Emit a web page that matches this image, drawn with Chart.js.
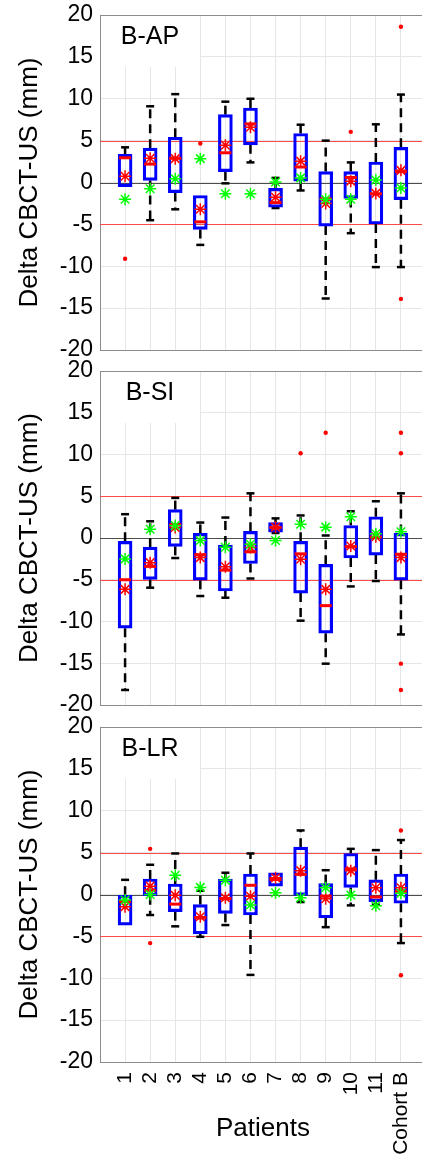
<!DOCTYPE html>
<html>
<head>
<meta charset="utf-8">
<script src="https://cdn.jsdelivr.net/npm/chart.js@4.4.0/dist/chart.umd.min.js"></script>
<style>
  html, body { margin: 0; padding: 0; background: #fff; }
  #wrap { position: relative; width: 422px; height: 1157px; overflow: hidden; }
  canvas { position: absolute; left: 0; }
</style>
</head>
<body>
<div id="wrap">
  <canvas id="apChart" width="440" height="364" style="top:0px"></canvas>
  <canvas id="siChart" width="440" height="363" style="top:356px"></canvas>
  <canvas id="lrChart" width="440" height="445" style="top:712px"></canvas>
</div>
<script>
const categories = ['1', '2', '3', '4', '5', '6', '7', '8', '9', '10', '11', 'Cohort B'];
const yTicks = [-20, -15, -10, -5, 0, 5, 10, 15, 20];
const refLines = [-5, 0, 5];

// B-AP
const apLow = [-0.5, -4.5, -3.2, -7.45, -0.1, 2.4, -3.05, -0.95, -13.85, -6.05, -10.1, -10.1];
const apQ1 = [-0.5, 0.25, -1.2, -5.6, 1.3, 4.5, -2.95, 0.15, -5.2, -1.9, -4.95, -2.05];
const apMed = [2.95, 2.2, 2.9, -4.7, 3.55, 7.0, -2.4, 1.85, -1.95, 0.6, -1.35, 1.3];
const apQ3 = [3.35, 4.1, 5.4, -1.55, 8.1, 8.9, -0.7, 5.85, 1.3, 1.3, 2.45, 4.2];
const apHigh = [4.2, 9.1, 10.55, -1.55, 9.65, 10.0, 0.55, 6.9, 5.0, 2.4, 6.95, 10.5];
const apMean = [0.75, 2.9, 2.85, -3.2, 4.45, 6.6, -1.75, 2.55, -2.5, 0.15, -1.3, 1.45];
const apGreen = [-2.0, -0.75, 0.45, 2.85, -1.35, -1.35, 0.05, 0.55, -2.0, -2.0, 0.3, -0.65];
const apOutCat = [1, 4, 10, 12, 12];
const apOutVal = [-9.1, 4.65, 6.05, 18.6, -13.9];

// B-SI
const siLow = [-18.2, -5.95, -2.4, -6.95, -7.15, -4.85, 0.6, -9.9, -15.05, -5.8, -5.15, -11.55];
const siQ1 = [-10.8, -4.95, -1.0, -5.05, -6.35, -3.05, 0.7, -6.6, -11.4, -2.4, -2.05, -5.05];
const siMed = [-5.0, -3.4, 1.6, -2.0, -3.85, -1.65, 1.25, -1.9, -8.1, -1.05, 0.1, -1.95];
const siQ3 = [-0.4, -1.1, 3.4, 0.55, -0.85, 0.8, 1.85, -0.4, -3.15, 1.5, 2.55, 0.55];
const siHigh = [2.85, 2.0, 4.8, 1.85, 2.45, 5.35, 2.35, 2.7, 0.3, 3.2, 4.4, 5.35];
const siMean = [-6.15, -2.95, 1.25, -2.35, -3.45, -1.15, 1.3, -2.55, -6.15, -0.95, 0.15, -2.35];
const siGreen = [-2.5, 1.05, 1.5, -0.3, -1.1, -0.75, -0.3, 1.65, 1.3, 2.55, 0.5, 0.75];
const siOutCat = [8, 9, 12, 12, 12, 12];
const siOutVal = [10.15, 12.6, 12.6, 10.15, -15.05, -18.2];

// B-LR
const lrLow = [-3.65, -2.45, -3.8, -5.05, -3.65, -9.6, 1.0, -0.9, -3.9, -1.3, -1.2, -5.8];
const lrQ1 = [-3.65, -0.15, -2.05, -4.7, -2.25, -2.45, 1.0, -0.1, -2.8, 0.85, -0.85, -1.05];
const lrMed = [-0.85, 0.5, -1.15, -2.8, -0.5, 1.1, 1.8, 2.4, -0.2, 3.05, -0.3, 0.4];
const lrQ3 = [-0.1, 1.85, 1.25, -1.2, 1.85, 2.45, 2.6, 5.65, 1.3, 4.9, 1.75, 2.45];
const lrHigh = [1.75, 3.55, 4.9, 0.45, 2.6, 4.9, 2.6, 7.65, 2.9, 5.45, 5.3, 6.5];
const lrMean = [-1.45, 1.0, -0.1, -2.65, -0.4, -0.2, 2.0, 2.85, -0.5, 2.85, 0.8, 0.8];
const lrGreen = [-0.65, 0.0, 2.3, 0.85, 1.7, -1.25, 0.2, -0.4, 0.8, -0.05, -1.35, 0.15];
const lrOutCat = [2, 2, 12, 12];
const lrOutVal = [5.45, -5.8, 7.65, -9.65];

const FONT = "'Liberation Sans', Arial, sans-serif";
const BOX_W = 14;

const panels = {
  apChart: { label: 'B-AP', low: apLow, q1: apQ1, med: apMed, q3: apQ3, high: apHigh },
  siChart: { label: 'B-SI', low: siLow, q1: siQ1, med: siMed, q3: siQ3, high: siHigh },
  lrChart: { label: 'B-LR', low: lrLow, q1: lrQ1, med: lrMed, q3: lrQ3, high: lrHigh }
};

// whiskers, reference lines, medians and the panel label
const boxParts = {
  id: 'boxParts',
  beforeDatasetsDraw(chart) {
    const p = panels[chart.canvas.id];
    const { ctx, chartArea: area, scales: { x, y } } = chart;
    ctx.save();
    refLines.forEach(v => {
      const py = Math.round(y.getPixelForValue(v)) + 0.5;
      ctx.strokeStyle = v === 0 ? '#4d4d4d' : '#ff4a4a';
      ctx.lineWidth = 1;
      ctx.beginPath();
      ctx.moveTo(area.left, py);
      ctx.lineTo(area.right, py);
      ctx.stroke();
    });
    p.low.forEach((lo, i) => {
      const px = x.getPixelForValue(i + 1);
      [[p.q3[i], p.high[i]], [p.q1[i], lo]].forEach(([from, to]) => {
        if (from === to) return;
        const y0 = y.getPixelForValue(from);
        const y1 = y.getPixelForValue(to);
        ctx.strokeStyle = '#000';
        ctx.lineWidth = 2.5;
        ctx.setLineDash([9, 6]);
        ctx.beginPath();
        ctx.moveTo(px, y0);
        ctx.lineTo(px, y1);
        ctx.stroke();
        ctx.setLineDash([]);
        ctx.beginPath();
        ctx.moveTo(px - 4, y1);
        ctx.lineTo(px + 4, y1);
        ctx.stroke();
      });
    });
    ctx.fillStyle = '#fff';
    ctx.fillRect(area.left + 1, area.top + 1, 99, 51);
    ctx.strokeStyle = '#8c8c8c';
    ctx.lineWidth = 1;
    ctx.beginPath();
    ctx.moveTo(area.left, Math.round(area.top) + 0.5);
    ctx.lineTo(area.right, Math.round(area.top) + 0.5);
    ctx.stroke();
    ctx.fillStyle = '#000';
    ctx.font = '25px ' + FONT;
    ctx.textAlign = 'center';
    ctx.textBaseline = 'middle';
    ctx.fillText(p.label, area.left + 50, area.top + 22);
    ctx.restore();
  },
  afterDatasetDraw(chart, args) {
    if (args.meta.type !== 'bar') return;
    const p = panels[chart.canvas.id];
    const { ctx, scales: { x, y } } = chart;
    ctx.save();
    ctx.strokeStyle = '#ff0000';
    ctx.lineWidth = 3;
    p.med.forEach((m, i) => {
      const px = x.getPixelForValue(i + 1);
      const py = y.getPixelForValue(m);
      ctx.beginPath();
      ctx.moveTo(px - BOX_W / 2 + 1, py);
      ctx.lineTo(px + BOX_W / 2 - 1, py);
      ctx.stroke();
    });
    ctx.restore();
  }
};

const toPoints = (vals) => vals.map((v, i) => ({ x: i + 1, y: v }));

const makePanel = (id, q1, q3, mean, green, outCat, outVal, showX, xHeight) => {
  const ctx = document.getElementById(id).getContext('2d');
  return new Chart(ctx, {
    type: 'bar',
    data: {
      datasets: [
        {
          type: 'scatter',
          data: toPoints(green),
          pointStyle: 'star',
          pointRadius: 6,
          borderColor: '#00ff00',
          borderWidth: 1.5
        },
        {
          type: 'scatter',
          data: toPoints(mean),
          pointStyle: 'star',
          pointRadius: 6,
          borderColor: '#ff0000',
          borderWidth: 1.5
        },
        {
          type: 'scatter',
          data: outCat.map((c, i) => ({ x: c, y: outVal[i] })),
          pointStyle: 'circle',
          pointRadius: 2.2,
          backgroundColor: '#ff0000',
          borderColor: '#ff0000',
          borderWidth: 0
        },
        {
          type: 'bar',
          data: q1.map((v, i) => ({ x: i + 1, y: [v, q3[i]] })),
          backgroundColor: 'rgba(0,0,0,0)',
          borderColor: '#0000ff',
          borderWidth: 2.5,
          borderSkipped: false,
          barThickness: BOX_W
        }
      ]
    },
    options: {
      responsive: false,
      animation: false,
      events: [],
      layout: { padding: { top: 15, bottom: showX ? 0 : 14, left: 0, right: 14 } },
      plugins: { legend: { display: false }, tooltip: { enabled: false } },
      scales: {
        x: {
          type: 'linear',
          min: 0,
          max: 13,
          offset: false,
          afterFit: (s) => {
            s.height = xHeight;
            s.paddingLeft = 0;
            s.paddingRight = 0;
          },
          grid: { color: '#e6e6e6', drawTicks: false, offset: false },
          border: { color: '#8c8c8c' },
          ticks: {
            display: showX,
            stepSize: 1,
            autoSkip: false,
            minRotation: 90,
            maxRotation: 90,
            padding: 10,
            color: '#000',
            font: { family: FONT, size: 21 },
            callback: (v) => categories[v - 1] || ''
          },
          title: {
            display: showX,
            text: 'Patients',
            color: '#000',
            font: { family: FONT, size: 26 },
            padding: { top: 0, bottom: 13 }
          }
        },
        y: {
          min: yTicks[0],
          max: yTicks[yTicks.length - 1],
          afterFit: (s) => {
            s.width = 100;
            s.paddingTop = 0;
            s.paddingBottom = 0;
          },
          afterBuildTicks: (s) => { s.ticks = yTicks.map(v => ({ value: v })); },
          grid: { color: '#e6e6e6', drawTicks: false },
          border: { color: '#8c8c8c' },
          ticks: {
            padding: 7,
            color: '#000',
            font: { family: FONT, size: 23 }
          },
          title: {
            display: true,
            text: 'Delta CBCT-US (mm)',
            color: '#000',
            font: { family: FONT, size: 26 },
            padding: { top: 14, bottom: 0 }
          }
        }
      }
    },
    plugins: [boxParts]
  });
};

makePanel('apChart', apQ1, apQ3, apMean, apGreen, apOutCat, apOutVal, false, 0);
makePanel('siChart', siQ1, siQ3, siMean, siGreen, siOutCat, siOutVal, false, 0);
makePanel('lrChart', lrQ1, lrQ3, lrMean, lrGreen, lrOutCat, lrOutVal, true, 95);
</script>
</body>
</html>
